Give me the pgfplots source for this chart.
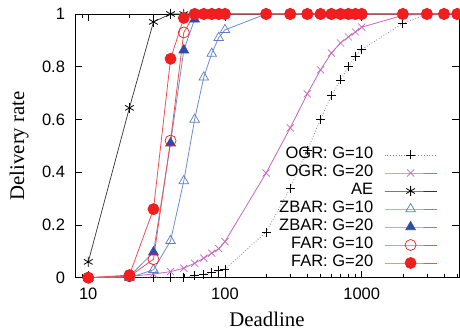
\documentclass[border=0pt]{standalone}
\usepackage{pgfplots}
\usepackage{pgfplotstable}
\pgfplotsset{compat=1.18}
\usepackage{fontspec}
\setmainfont{Liberation Serif}
\newfontfamily\hv{Liberation Sans}
\definecolor{ogrpurple}{RGB}{200,100,190}
\definecolor{zline}{RGB}{110,140,210}
\definecolor{zmark}{RGB}{50,75,170}
\definecolor{fred}{RGB}{240,30,30}
\definecolor{fline}{RGB}{240,80,80}
\pgfplotstableread{
x ogr10 ogr20 ae zbar10 zbar20 far10 far20
10 0 0 0.06 0 0 0 0
20 0 0.005 0.644 0 0.005 0.005 0.01
30 0 0.014 0.97 0.03 0.097 0.07 0.26
40 0 0.023 1 0.14 0.51 0.52 0.83
50 0 0.036 1 0.367 0.863 0.93 0.985
60 0.008 0.055 1 0.60 0.98 1 1
70 0.014 0.074 1 0.76 1 1 1
80 0.019 0.093 1 0.85 1 1 1
90 0.027 0.11 1 0.91 1 1 1
100 0.032 0.137 1 0.94 1 1 1
200 0.173 0.397 1 1 1 1 1
300 0.34 0.568 1 1 1 1 1
400 0.484 0.697 1 1 1 1 1
500 0.60 0.788 1 1 1 1 1
600 0.69 0.852 1 1 1 1 1
700 0.75 0.89 1 1 1 1 1
800 0.80 0.913 1 1 1 1 1
900 0.84 0.932 1 1 1 1 1
1000 0.865 0.95 1 1 1 1 1
2000 0.965 0.995 1 1 1 1 1
3000 1 1 1 1 1 1 1
4000 1 1 1 1 1 1 1
5000 1 1 1 1 1 1 1
}\datatable
\begin{document}
\begin{tikzpicture}
\useasboundingbox (-75pt,-56.3pt) rectangle (385pt,277.7pt);
\begin{axis}[
  scale only axis, width=384pt, height=263.7pt,
  xmode=log, xmin=8, xmax=5150, ymin=0, ymax=1,
  xtick={10,100,1000}, xticklabels={10,100,1000},
  minor xtick={8,9,20,30,40,50,60,70,80,90,200,300,400,500,600,700,800,900,2000,3000,4000,5000},
  ytick={0,0.2,0.4,0.6,0.8,1},
  tick align=inside, major tick length=7pt, minor tick length=4pt,
  tick style={black, line width=0.6pt},
  axis line style={line width=0.8pt},
  xlabel={Deadline}, ylabel={Delivery rate},
  label style={font=\fontsize{20.8}{24}\selectfont},
  xlabel style={at={(axis description cs:0.5,0)}, anchor=base, yshift=-49pt},
  ylabel style={at={(axis description cs:0,0.5)}, anchor=base, yshift=51pt},
  tick label style={font=\hv\fontsize{16.5}{18}\selectfont},
  /pgf/number format/assume math mode=true,
  yticklabel style={xshift=-6.5pt},
  xticklabel style={yshift=-6.8pt},
  legend plot pos=right,
  legend cell align=right,
  legend image code/.code={\draw[mark repeat=2,mark phase=2,#1] plot coordinates {(0pt,0pt) (26pt,0pt) (52pt,0pt)};},
  legend style={at={(axis description cs:1,0)}, anchor=south east, xshift=-22pt, yshift=5.7pt,
    draw=none, fill=none, inner sep=0pt, outer sep=0pt, column sep=10pt, row sep=0pt,
    font=\hv\fontsize{16.5}{18}\selectfont,
    nodes={inner sep=1pt, text height=12pt, text depth=4pt}},
]
\addplot[black!50, dotted, line width=0.8pt, mark=+, mark size=4.5pt, mark options={solid, black, line width=0.8pt}]
  table[x=x, y=ogr10] {\datatable};
\addlegendentry{OGR: G=10}
\addplot[ogrpurple, line width=0.8pt, mark=x, mark size=5pt, mark options={solid, line width=0.7pt}]
  table[x=x, y=ogr20] {\datatable};
\addlegendentry{OGR: G=20}
\addplot[black!80, line width=0.7pt, mark=asterisk, mark size=5pt, mark options={black, line width=0.8pt}]
  table[x=x, y=ae] {\datatable};
\addlegendentry{AE}
\addplot[zline, line width=0.8pt, mark=triangle, mark size=5.5pt, mark options={zline!70!zmark, line width=0.7pt}]
  table[x=x, y=zbar10] {\datatable};
\addlegendentry{ZBAR: G=10}
\addplot[zline, line width=0.8pt, mark=triangle*, mark size=5.5pt, mark options={draw=zmark, fill=zmark}]
  table[x=x, y=zbar20] {\datatable};
\addlegendentry{ZBAR: G=20}
\addplot[fline, line width=0.8pt, mark=o, mark size=5.5pt, mark options={fred, line width=0.7pt}]
  table[x=x, y=far10] {\datatable};
\addlegendentry{FAR: G=10}
\addplot[fline, line width=0.8pt, mark=*, mark size=5.5pt, mark options={draw=fred, fill=fred}]
  table[x=x, y=far20] {\datatable};
\addlegendentry{FAR: G=20}
\end{axis}
\end{tikzpicture}
\end{document}
